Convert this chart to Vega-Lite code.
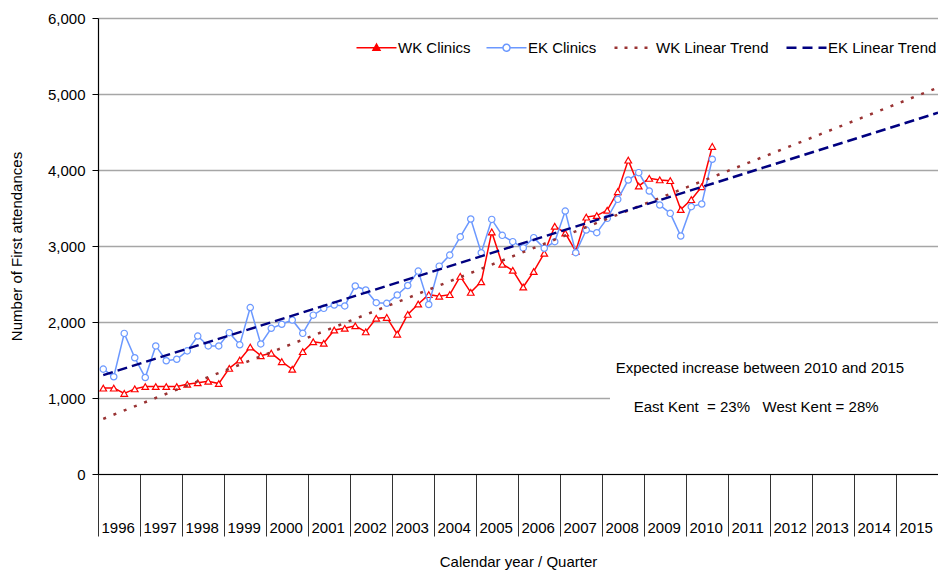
{
  "$schema": "https://vega.github.io/schema/vega-lite/v6.json",
  "width": 840,
  "height": 456,
  "autosize": {"type": "none"},
  "padding": {"left": 98, "top": 18, "right": 0, "bottom": 97},
  "background": "white",
  "config": {
    "font": "Liberation Sans",
    "view": {"stroke": null}
  },
  "datasets": {
    "clinics": [
      {"t": 1996.125, "wk": 1130, "ek": 1380},
      {"t": 1996.375, "wk": 1130, "ek": 1280},
      {"t": 1996.625, "wk": 1060, "ek": 1850},
      {"t": 1996.875, "wk": 1120, "ek": 1530},
      {"t": 1997.125, "wk": 1150, "ek": 1270},
      {"t": 1997.375, "wk": 1150, "ek": 1685},
      {"t": 1997.625, "wk": 1150, "ek": 1490},
      {"t": 1997.875, "wk": 1150, "ek": 1510},
      {"t": 1998.125, "wk": 1180, "ek": 1620},
      {"t": 1998.375, "wk": 1200, "ek": 1815},
      {"t": 1998.625, "wk": 1220, "ek": 1685},
      {"t": 1998.875, "wk": 1190, "ek": 1685},
      {"t": 1999.125, "wk": 1390, "ek": 1860},
      {"t": 1999.375, "wk": 1500, "ek": 1700},
      {"t": 1999.625, "wk": 1670, "ek": 2190},
      {"t": 1999.875, "wk": 1557, "ek": 1711},
      {"t": 2000.125, "wk": 1590, "ek": 1917},
      {"t": 2000.375, "wk": 1478, "ek": 1970},
      {"t": 2000.625, "wk": 1378, "ek": 2026},
      {"t": 2000.875, "wk": 1610, "ek": 1851},
      {"t": 2001.125, "wk": 1740, "ek": 2090},
      {"t": 2001.375, "wk": 1720, "ek": 2180},
      {"t": 2001.625, "wk": 1895, "ek": 2224},
      {"t": 2001.875, "wk": 1917, "ek": 2211},
      {"t": 2002.125, "wk": 1950, "ek": 2474},
      {"t": 2002.375, "wk": 1870, "ek": 2421},
      {"t": 2002.625, "wk": 2050, "ek": 2254},
      {"t": 2002.875, "wk": 2060, "ek": 2246},
      {"t": 2003.125, "wk": 1840, "ek": 2355},
      {"t": 2003.375, "wk": 2100, "ek": 2480},
      {"t": 2003.625, "wk": 2237, "ek": 2670},
      {"t": 2003.875, "wk": 2360, "ek": 2230},
      {"t": 2004.125, "wk": 2340, "ek": 2735},
      {"t": 2004.375, "wk": 2360, "ek": 2880},
      {"t": 2004.625, "wk": 2600, "ek": 3120},
      {"t": 2004.875, "wk": 2390, "ek": 3355},
      {"t": 2005.125, "wk": 2530, "ek": 2912},
      {"t": 2005.375, "wk": 3185, "ek": 3350},
      {"t": 2005.625, "wk": 2760, "ek": 3140},
      {"t": 2005.875, "wk": 2680, "ek": 3057},
      {"t": 2006.125, "wk": 2460, "ek": 2975},
      {"t": 2006.375, "wk": 2665, "ek": 3110},
      {"t": 2006.625, "wk": 2905, "ek": 2970},
      {"t": 2006.875, "wk": 3260, "ek": 3057},
      {"t": 2007.125, "wk": 3170, "ek": 3460},
      {"t": 2007.375, "wk": 2930, "ek": 2912},
      {"t": 2007.625, "wk": 3380, "ek": 3210},
      {"t": 2007.875, "wk": 3400, "ek": 3175},
      {"t": 2008.125, "wk": 3470, "ek": 3364},
      {"t": 2008.375, "wk": 3715, "ek": 3614},
      {"t": 2008.625, "wk": 4130, "ek": 3868},
      {"t": 2008.875, "wk": 3790, "ek": 3965},
      {"t": 2009.125, "wk": 3890, "ek": 3724},
      {"t": 2009.375, "wk": 3870, "ek": 3539},
      {"t": 2009.625, "wk": 3860, "ek": 3430},
      {"t": 2009.875, "wk": 3480, "ek": 3132},
      {"t": 2010.125, "wk": 3610, "ek": 3518},
      {"t": 2010.375, "wk": 3780, "ek": 3553},
      {"t": 2010.625, "wk": 4310, "ek": 4141}
    ],
    "trend": [
      {"t": 1996.125, "wk": 726, "ek": 1301},
      {"t": 2016, "wk": 5085, "ek": 4754}
    ],
    "notes": [
      {"line": 1, "label": "Expected increase between 2010 and 2015"},
      {"line": 2, "label": "East Kent\u00a0 = 23%\u00a0\u00a0 West Kent = 28%"}
    ]
  },
  "layer": [
    {
      "data": {"name": "clinics"},
      "mark": {"type": "line", "strokeWidth": 1.5},
      "encoding": {
        "x": {
          "field": "t",
          "type": "quantitative",
          "scale": {"domain": [1996, 2016], "nice": false, "zero": false},
          "axis": {
            "title": "Calendar year / Quarter",
            "values": [1996,1996.25,1996.5,1996.75,1997,1997.25,1997.5,1997.75,1998,1998.25,1998.5,1998.75,1999,1999.25,1999.5,1999.75,2000,2000.25,2000.5,2000.75,2001,2001.25,2001.5,2001.75,2002,2002.25,2002.5,2002.75,2003,2003.25,2003.5,2003.75,2004,2004.25,2004.5,2004.75,2005,2005.25,2005.5,2005.75,2006,2006.25,2006.5,2006.75,2007,2007.25,2007.5,2007.75,2008,2008.25,2008.5,2008.75,2009,2009.25,2009.5,2009.75,2010,2010.25,2010.5,2010.75,2011,2011.25,2011.5,2011.75,2012,2012.25,2012.5,2012.75,2013,2013.25,2013.5,2013.75,2014,2014.25,2014.5,2014.75,2015,2015.25,2015.5,2015.75,2016],
            "tickSize": {"condition": {"test": "datum.value % 1 === 0", "value": 62}, "value": 31},
            "tickColor": "#333333",
            "tickWidth": 1,
            "labelExpr": "datum.value % 1 === 0 && datum.value < 2016 ? '' + datum.value : ''",
            "labelAlign": "left",
            "labelBaseline": "top",
            "labelOffset": 3,
            "labelPadding": -16,
            "labelFontSize": 15,
            "labelColor": "#000000",
            "labelOverlap": false,
            "labelFlush": false,
            "labelBound": false,
            "domainColor": "#000000",
            "domainWidth": 1.2,
            "grid": false,
            "titleFontSize": 15,
            "titleFontWeight": "normal",
            "titleColor": "#000000",
            "titlePadding": 18
          }
        },
        "y": {
          "field": "wk",
          "type": "quantitative",
          "scale": {"domain": [0, 6000], "nice": false},
          "axis": {
            "title": "Number of First attendances",
            "values": [0, 1000, 2000, 3000, 4000, 5000, 6000],
            "labelExpr": "format(datum.value, ',d')",
            "tickSize": 6,
            "tickColor": "#000000",
            "labelFontSize": 15,
            "labelColor": "#000000",
            "labelPadding": 7,
            "grid": true,
            "gridColor": "#a6a6a6",
            "gridWidth": 1.5,
            "domainColor": "#000000",
            "domainWidth": 1.2,
            "titleFontSize": 15,
            "titleFontWeight": "normal",
            "titleColor": "#000000",
            "titlePadding": 23
          }
        },
        "color": {
          "datum": "WK Clinics",
          "type": "nominal",
          "scale": {
            "domain": ["WK Clinics", "EK Clinics", "WK Linear Trend", "EK Linear Trend"],
            "range": ["#ff0000", "#6b98ff", "#993333", "#000080"]
          },
          "legend": {
            "title": null,
            "orient": "none",
            "legendX": 271,
            "legendY": 22,
            "direction": "horizontal",
            "labelFontSize": 15,
            "labelColor": "#000000",
            "labelOffset": 14,
            "columnPadding": 12,
            "symbolSize": 1600,
            "symbolStrokeWidth": 1.5,
            "encode": {
              "symbols": {
                "update": {
                  "shape": {"signal": "datum.value === 'WK Clinics' ? 'M-1,0L1,0M-0.175,0.13L0,-0.18L0.175,0.13Z' : datum.value === 'EK Clinics' ? 'M-1,0L-0.175,0M0.175,0L1,0M-0.175,0A0.175,0.175,0,1,1,0.175,0A0.175,0.175,0,1,1,-0.175,0Z' : 'stroke'"},
                  "fill": {"signal": "datum.value === 'WK Clinics' ? '#ff0000' : datum.value === 'EK Clinics' ? '#ffffff' : 'transparent'"},
                  "strokeDash": {"signal": "datum.value === 'WK Linear Trend' ? [3, 7] : datum.value === 'EK Linear Trend' ? [10, 6] : [1, 0]"},
                  "strokeWidth": {"signal": "datum.value === 'WK Linear Trend' || datum.value === 'EK Linear Trend' ? 2.5 : 1.5"}
                }
              }
            }
          }
        }
      }
    },
    {
      "data": {"name": "clinics"},
      "mark": {"type": "point", "shape": "triangle-up", "filled": false, "fill": "white", "size": 44, "strokeWidth": 1.2, "opacity": 1},
      "encoding": {
        "x": {"field": "t", "type": "quantitative"},
        "y": {"field": "wk", "type": "quantitative"},
        "color": {"datum": "WK Clinics", "type": "nominal"}
      }
    },
    {
      "data": {"name": "clinics"},
      "mark": {"type": "line", "strokeWidth": 1.5},
      "encoding": {
        "x": {"field": "t", "type": "quantitative"},
        "y": {"field": "ek", "type": "quantitative"},
        "color": {"datum": "EK Clinics", "type": "nominal"}
      }
    },
    {
      "data": {"name": "clinics"},
      "mark": {"type": "point", "shape": "circle", "filled": false, "fill": "white", "size": 40, "strokeWidth": 1.2, "opacity": 1},
      "encoding": {
        "x": {"field": "t", "type": "quantitative"},
        "y": {"field": "ek", "type": "quantitative"},
        "color": {"datum": "EK Clinics", "type": "nominal"}
      }
    },
    {
      "data": {"name": "trend"},
      "mark": {"type": "line", "strokeWidth": 2.5, "strokeDash": [3, 8]},
      "encoding": {
        "x": {"field": "t", "type": "quantitative"},
        "y": {"field": "wk", "type": "quantitative"},
        "color": {"datum": "WK Linear Trend", "type": "nominal"}
      }
    },
    {
      "data": {"name": "trend"},
      "mark": {"type": "line", "strokeWidth": 2.5, "strokeDash": [10, 5]},
      "encoding": {
        "x": {"field": "t", "type": "quantitative"},
        "y": {"field": "ek", "type": "quantitative"},
        "color": {"datum": "EK Linear Trend", "type": "nominal"}
      }
    },
    {
      "data": {"name": "notes"},
      "transform": [{"filter": "datum.line === 1"}],
      "mark": {"type": "rect", "fill": "white", "stroke": null},
      "encoding": {
        "x": {"datum": 2008.19, "type": "quantitative"},
        "x2": {"datum": 2016},
        "y": {"datum": 650, "type": "quantitative"},
        "y2": {"datum": 1650}
      }
    },
    {
      "data": {"name": "notes"},
      "transform": [{"filter": "datum.line === 1"}],
      "mark": {"type": "text", "fontSize": 15, "align": "center", "baseline": "middle", "fill": "#000000"},
      "encoding": {
        "x": {"datum": 2011.76, "type": "quantitative"},
        "y": {"datum": 1395, "type": "quantitative"},
        "text": {"field": "label", "type": "nominal"}
      }
    },
    {
      "data": {"name": "notes"},
      "transform": [{"filter": "datum.line === 2"}],
      "mark": {"type": "text", "fontSize": 15, "align": "center", "baseline": "middle", "fill": "#000000"},
      "encoding": {
        "x": {"datum": 2011.67, "type": "quantitative"},
        "y": {"datum": 882, "type": "quantitative"},
        "text": {"field": "label", "type": "nominal"}
      }
    }
  ]
}
